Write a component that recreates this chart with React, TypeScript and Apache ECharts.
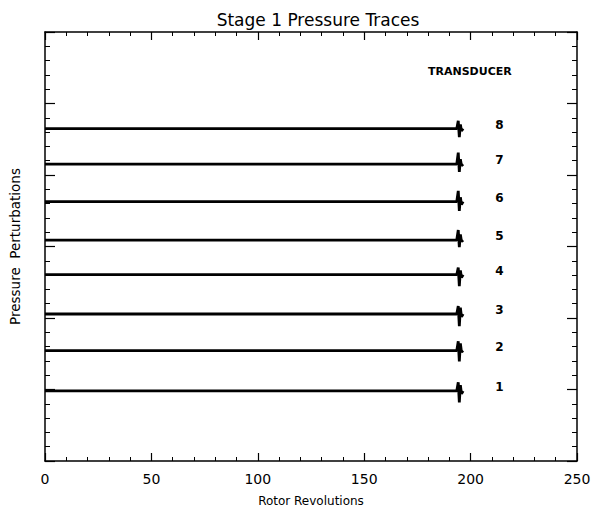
import React, { useEffect, useRef } from "react";
import * as echarts from "echarts";

// Transducer numbers and their trace levels (pressure perturbation baselines)
const transducers = ["1", "2", "3", "4", "5", "6", "7", "8"];
const traceLevels = [4.9, 7.72, 10.28, 13.03, 15.45, 18.14, 20.76, 23.24];
// Trace extent in rotor revolutions
const traceStart = 0;
const traceFlatEnd = 193.5;
// Disturbance burst at end of each trace
const spikeRevs = [194.2, 194.7, 195.2, 195.7, 196.5];
const spikeOffsets = [
  [0.6, -0.8, 0.4, -0.2, 0],
  [0.65, -0.75, 0.5, -0.1, 0],
  [0.55, -0.85, 0.45, -0.2, 0],
  [0.5, -0.8, 0.3, -0.2, 0],
  [0.7, -0.5, 0.4, -0.1, 0],
  [0.75, -0.65, 0.3, -0.2, 0],
  [0.8, -0.55, 0.35, -0.1, 0],
  [0.55, -0.6, 0.3, -0.15, 0],
];
const xTicks = [0, 50, 100, 150, 200, 250];

const FONT = "DejaVu Sans";

export default function App() {
  const ref = useRef<HTMLDivElement>(null);
  useEffect(() => {
    if (!ref.current) return;
    const chart = echarts.init(ref.current, undefined, { renderer: "svg" });
    const series = transducers.map((name, i) => {
      const v = traceLevels[i];
      const data: number[][] = [
        [traceStart, v],
        [traceFlatEnd, v],
        ...spikeRevs.map((r, k) => [r, v + spikeOffsets[i][k]]),
      ];
      return {
        type: "line",
        name,
        data,
        xAxisIndex: 0,
        yAxisIndex: 0,
        symbol: "none",
        lineStyle: { color: "#000", width: 2.8 },
        endLabel: {
          show: true,
          formatter: name,
          distance: 32,
          offset: [0, -4],
          color: "#000",
          fontFamily: FONT,
          fontSize: 12,
          fontWeight: "bold",
        },
      };
    });
    const xCommon = {
      type: "value",
      min: xTicks[0],
      max: xTicks[xTicks.length - 1],
      interval: 50,
      axisLine: { show: true, onZero: false, lineStyle: { color: "#000", width: 1.5 } },
      axisTick: { show: true, inside: true, length: 8, lineStyle: { color: "#000", width: 1.2 } },
      minorTick: { show: true, splitNumber: 5, length: 4, lineStyle: { color: "#000", width: 1 } },
      splitLine: { show: false },
      minorSplitLine: { show: false },
    };
    const yCommon = {
      type: "value",
      min: 0,
      max: 30,
      interval: 5,
      axisLine: { show: true, onZero: false, lineStyle: { color: "#000", width: 1.5 } },
      axisTick: { show: true, inside: true, length: 10, lineStyle: { color: "#000", width: 1.2 } },
      minorTick: { show: true, splitNumber: 5, length: 5, lineStyle: { color: "#000", width: 1 } },
      axisLabel: { show: false },
      splitLine: { show: false },
      minorSplitLine: { show: false },
    };
    chart.setOption({
      animation: false,
      backgroundColor: "#fff",
      title: {
        text: "Stage 1 Pressure Traces",
        left: 313,
        top: 6,
        textAlign: "center",
        textStyle: { fontFamily: FONT, fontSize: 17, fontWeight: "normal", color: "#000" },
      },
      grid: { left: 38.5, right: 22, top: 32, bottom: 45, containLabel: false },
      xAxis: [
        {
          ...xCommon,
          position: "bottom",
          name: "Rotor Revolutions",
          nameLocation: "middle",
          nameGap: 34,
          nameTextStyle: { fontFamily: FONT, fontSize: 12, color: "#000" },
          axisLabel: { show: true, margin: 11, fontFamily: FONT, fontSize: 14, color: "#000" },
        },
        { ...xCommon, position: "top", axisLabel: { show: false } },
      ],
      yAxis: [
        {
          ...yCommon,
          position: "left",
          name: "Pressure  Perturbations",
          nameLocation: "middle",
          nameGap: 23,
          nameTextStyle: { fontFamily: FONT, fontSize: 13.5, color: "#000" },
        },
        { ...yCommon, position: "right" },
      ],
      graphic: [
        {
          type: "text",
          left: 428,
          top: 66,
          style: {
            text: "TRANSDUCER",
            fontFamily: FONT,
            fontSize: 11,
            fontWeight: "bold",
            fill: "#000",
          },
        },
      ],
      series,
    });
    return () => chart.dispose();
  }, []);
  return (
    <div
      ref={ref}
      style={{ position: "absolute", left: 0, top: 0, width: 599, height: 512 }}
    />
  );
}
